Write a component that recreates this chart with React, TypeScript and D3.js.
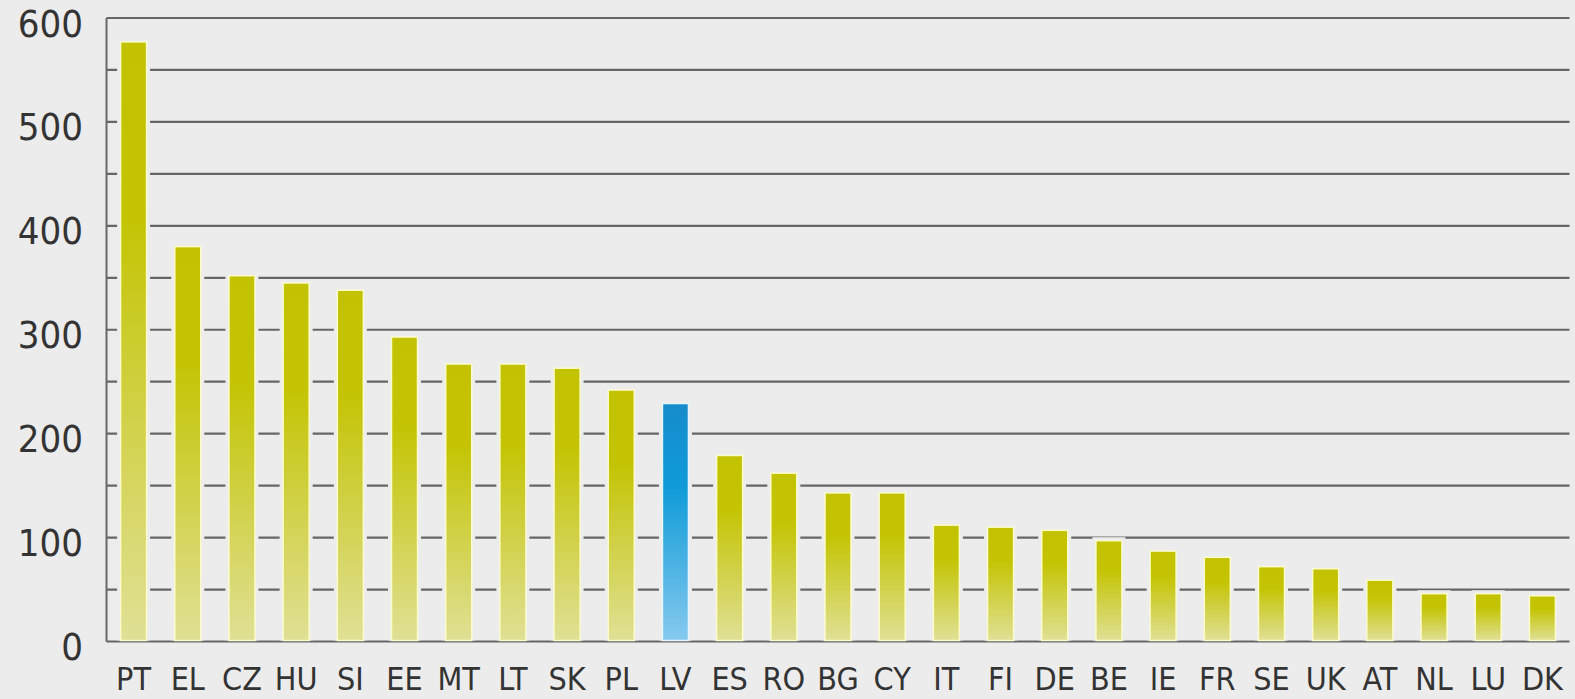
import React from "react";
import * as d3 from "d3";

const countries = ["PT","EL","CZ","HU","SI","EE","MT","LT","SK","PL","LV","ES","RO","BG","CY","IT","FI","DE","BE","IE","FR","SE","UK","AT","NL","LU","DK"];
const values = [577,380,352,345,338,293,267,267,263,242,229,179,162,143,143,112,110,107,97,87,81,72,70,59,46,46,44];
const highlight = ["LV"];
const yTicks = [0,100,200,300,400,500,600];
const gridValues = [0,50,100,150,200,250,300,350,400,450,500,550,600];

const W = 1575, H = 699;
const left = 106.5, right = 1569.5, top = 18, bottom = 641.5;
const BG = "#ececec";
const FONT = "'Liberation Sans Narrow', 'DejaVu Sans Condensed', 'Open Sans', sans-serif";

export default function App() {
  const x = d3.scaleBand<string>().domain(countries).range([left, right]).paddingInner(0.52).paddingOuter(0.26);
  const y = d3.scaleLinear().domain([0, 600]).range([bottom, top]);
  const bw = x.bandwidth();
  return (
    <svg width={W} height={H} style={{ position: "absolute", left: 0, top: 0, background: BG }}>
      <defs>
        <linearGradient id="gY" x1="0" y1="0" x2="0" y2="1">
          <stop offset="0" stopColor="#c2c200" />
          <stop offset="0.3" stopColor="#c4c405" />
          <stop offset="1" stopColor="#e0e096" />
        </linearGradient>
        <linearGradient id="gB" x1="0" y1="0" x2="0" y2="1">
          <stop offset="0" stopColor="#178bcb" />
          <stop offset="0.35" stopColor="#0f9bd8" />
          <stop offset="1" stopColor="#86c9ee" />
        </linearGradient>
      </defs>
      <rect x={0} y={0} width={W} height={H} fill={BG} />
      {gridValues.map((v) => (
        <line key={v} x1={left} x2={right} y1={y(v)} y2={y(v)} stroke="#666" strokeWidth={2.2} />
      ))}
      <line x1={left} x2={left} y1={top} y2={bottom} stroke="#666" strokeWidth={2} />
      {countries.map((c, i) => {
        const x0 = x(c)!;
        const yt = y(values[i]);
        const hl = highlight.includes(c);
        return (
          <g key={c}>
            <rect x={x0 - 3.5} y={yt - 3.5} width={bw + 7} height={bottom - yt + 2.5} fill={BG} />
            <rect x={x0} y={yt} width={bw} height={bottom - yt - 1} fill={hl ? "url(#gB)" : "url(#gY)"}
              stroke={hl ? "#e6f6ff" : "#fbfbcc"} strokeWidth={1.5} />
          </g>
        );
      })}
      {yTicks.map((v) => (
        <text key={v} x={83} y={y(v) + 8} textAnchor="end" dominantBaseline="middle"
          fontFamily={FONT} fontSize={38} fill="#333">{v}</text>
      ))}
      {countries.map((c) => (
        <text key={c} x={x(c)! + bw / 2} y={690} textAnchor="middle"
          fontFamily={FONT} fontSize={32} fill="#333">{c}</text>
      ))}
    </svg>
  );
}
